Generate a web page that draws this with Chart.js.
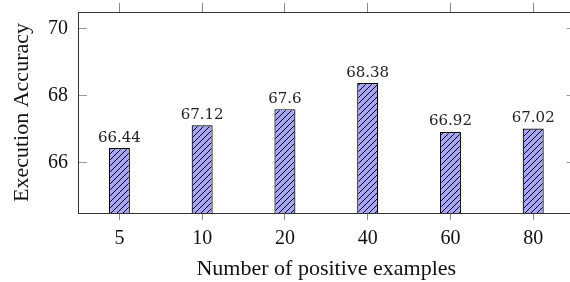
<!DOCTYPE html>
<html>
<head>
<meta charset="utf-8">
<script src="https://cdn.jsdelivr.net/npm/chart.js@4.4.1/dist/chart.umd.min.js"></script>
<style>
  html, body { margin: 0; padding: 0; background: #fff; overflow: hidden; }
  #wrap { width: 570px; height: 282px; overflow: hidden; }
</style>
</head>
<body>
<div id="wrap"><canvas id="chart" width="580" height="282"></canvas></div>
<script>
// data
const categories = ['5', '10', '20', '40', '60', '80'];
const accuracy = [66.44, 67.12, 67.6, 68.38, 66.92, 67.02];
const yTicks = [66, 68, 70];
const yMin = 64.5;
const yMax = 70.5;

const serif = 'Liberation Serif';

// blue fill with "north east lines" hatch
function hatchPattern() {
  const s = 6;
  const c = document.createElement('canvas');
  c.width = s;
  c.height = s;
  const g = c.getContext('2d');
  g.fillStyle = '#a6a6ff';
  g.fillRect(0, 0, s, s);
  g.strokeStyle = '#000';
  g.lineWidth = 1;
  g.beginPath();
  g.moveTo(0, s); g.lineTo(s, 0);
  g.moveTo(-1, 1); g.lineTo(1, -1);
  g.moveTo(s - 1, s + 1); g.lineTo(s + 1, s - 1);
  g.stroke();
  return g.createPattern(c, 'repeat');
}

// numbers above the bars
const valueLabels = {
  id: 'valueLabels',
  afterDatasetsDraw(chart) {
    const ctx = chart.ctx;
    const meta = chart.getDatasetMeta(0);
    ctx.save();
    ctx.font = '15px "DejaVu Serif"';
    ctx.fillStyle = '#222';
    ctx.textAlign = 'center';
    ctx.textBaseline = 'alphabetic';
    meta.data.forEach((bar, i) => {
      ctx.fillText(String(accuracy[i]), bar.x, bar.y - 6.5);
    });
    ctx.restore();
  }
};

const setYTicks = (scale) => { scale.ticks = yTicks.map(v => ({ value: v })); };

new Chart(document.getElementById('chart'), {
  type: 'bar',
  data: {
    labels: categories,
    datasets: [{
      data: accuracy,
      backgroundColor: hatchPattern(),
      borderColor: '#000',
      borderWidth: 1.2,
      borderSkipped: false,
      categoryPercentage: 1,
      barPercentage: 0.254
    }]
  },
  options: {
    responsive: false,
    animation: false,
    layout: { padding: 0 },
    plugins: {
      legend: { display: false },
      tooltip: { enabled: false }
    },
    scales: {
      x: {
        position: 'bottom',
        offset: true,
        grid: { display: true, offset: false, drawOnChartArea: false, tickLength: 7, color: '#888' },
        border: { display: true, color: '#333', width: 1 },
        ticks: { color: '#111', font: { family: serif, size: 20 }, padding: 7, maxRotation: 0 },
        title: {
          display: true,
          text: 'Number of positive examples',
          color: '#111',
          font: { family: serif, size: 22 },
          padding: { top: 0, bottom: 0 }
        },
        afterFit(s) { s.height = 69; s.paddingLeft = 0; s.paddingRight = 0; }
      },
      xTop: {
        type: 'category',
        position: 'top',
        offset: true,
        grid: { display: true, offset: false, drawOnChartArea: false, tickLength: 9, color: '#888' },
        border: { display: true, color: '#333', width: 1 },
        ticks: { display: false },
        afterFit(s) { s.height = 12; s.paddingLeft = 0; s.paddingRight = 0; }
      },
      y: {
        position: 'left',
        min: yMin,
        max: yMax,
        afterBuildTicks: setYTicks,
        grid: { display: true, drawOnChartArea: false, tickLength: -9, color: '#999' },
        border: { display: true, color: '#333', width: 1 },
        ticks: { color: '#111', font: { family: serif, size: 20 }, padding: 19 },
        title: {
          display: true,
          text: 'Execution Accuracy',
          color: '#111',
          font: { family: serif, size: 22 },
          padding: { top: 9, bottom: 0 }
        },
        afterFit(s) { s.width = 78; s.paddingTop = 0; s.paddingBottom = 0; }
      },
      yRight: {
        type: 'linear',
        position: 'right',
        min: yMin,
        max: yMax,
        afterBuildTicks: setYTicks,
        grid: { display: true, drawOnChartArea: false, tickLength: -8, color: '#999' },
        border: { display: true, color: '#333', width: 1 },
        ticks: { display: false },
        afterFit(s) { s.width = 5.4; s.paddingTop = 0; s.paddingBottom = 0; }
      }
    }
  },
  plugins: [valueLabels]
});
</script>
</body>
</html>
